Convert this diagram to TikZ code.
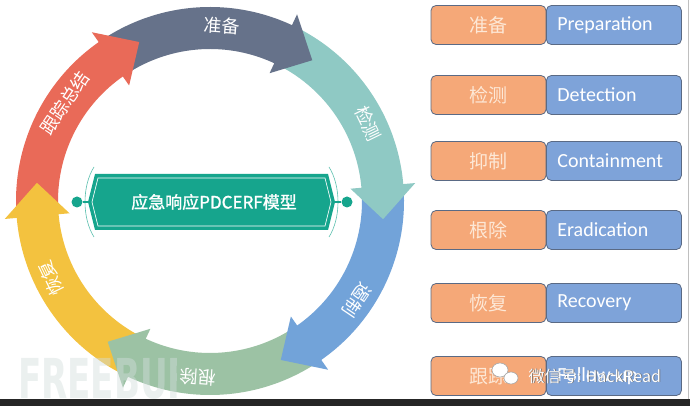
\documentclass[tikz,border=0pt]{standalone}
\usepackage{fontspec}
\setmainfont{Carlito}
\newfontfamily\cjk{Noto Sans CJK SC}
\newfontfamily\cjkbold[FakeBold=1.2]{Noto Sans CJK SC}
\newfontfamily\wmfont{DejaVu Sans}
\usepackage{tikz}
\usetikzlibrary{calc}
\definecolor{arcgray}{HTML}{66728A}
\definecolor{arcteal}{HTML}{8FC9C4}
\definecolor{arcblue}{HTML}{72A3D9}
\definecolor{arcgreen}{HTML}{9CC2A4}
\definecolor{arcyellow}{HTML}{F3C23F}
\definecolor{arcred}{HTML}{E96A58}
\definecolor{bannergreen}{HTML}{16A58D}
\definecolor{cellorange}{HTML}{F5A878}
\definecolor{cellblue}{HTML}{7EA3D9}
\definecolor{cellline}{HTML}{5A6A85}
\definecolor{cncream}{HTML}{FDE8D6}
\definecolor{barblack}{HTML}{262626}
\definecolor{wmgray}{HTML}{D3DEDC}
\newcommand{\arcband}[2]{\fill[#1] (#2+69:152) arc[start angle=#2+69, end angle=#2+10, radius=152] -- (#2+10:194) arc[start angle=#2+10, end angle=#2+69, radius=194] -- cycle;}
\newcommand{\archead}[2]{\fill[#1] (#2+11:141) -- (#2:174) -- (#2+11:206) -- cycle;}
\newcommand{\phaserow}[4]{\node[cnbox] (#1-cn) at (488.5,#2) {#3}; \node[enbox] (#1-en) at (546,#2) {#4};}
\tikzset{
  arclabel/.style={text=white, font=\cjk\fontsize{18}{18}\selectfont, inner sep=0pt},
  cnbox/.style={rectangle, rounded corners=5pt, fill=cellorange, draw=cellline, line width=0.8pt,
    minimum width=115pt, minimum height=39pt, inner sep=0pt, text=cncream, font=\cjk\fontsize{19}{19}\selectfont},
  enbox/.style={rectangle, rounded corners=5pt, fill=cellblue, draw=cellline, line width=0.8pt, anchor=west,
    text width=113pt, inner xsep=11pt, inner ysep=0pt, minimum height=39pt, align=left, text=white,
    font=\fontsize{20}{20}\selectfont},
  bandot/.style={circle, fill=bannergreen, minimum size=11pt, inner sep=0pt}
}

\begin{document}
\begin{tikzpicture}[x=1pt, y=1pt]
    \useasboundingbox (0,0) rectangle (690,406);
    \fill[white] (0,0) rectangle (690,406);
    % ring of arrows
    \begin{scope}[shift={(210,205)}]
        % bands
        \arcband{arcred}{114}
        \arcband{arcgray}{54}
        \arcband{arcteal}{-6}
        \arcband{arcblue}{-66}
        \arcband{arcgreen}{-126}
        \arcband{arcyellow}{174}
        % heads
        \archead{arcred}{114}
        \archead{arcgray}{54}
        \archead{arcteal}{-6}
        \archead{arcblue}{-66}
        \archead{arcgreen}{-126}
        \archead{arcyellow}{174}
        % labels
        \node[arclabel, rotate=-4] (prep-arc) at (86:176) {准备};
        \node[arclabel, rotate=-64] (det-arc) at (26:176) {检测};
        \node[arclabel, rotate=-124] (cont-arc) at (-34:177) {遏制};
        \node[arclabel, rotate=176] (erad-arc) at (-94:177) {根除};
        \node[arclabel, rotate=116] (rec-arc) at (-154:177) {恢复};
        \node[arclabel, rotate=56] (fol-arc) at (146:175) {跟踪总结};
    \end{scope}
    % banner
    \fill[bannergreen] (95,232) -- (328,232) -- (335,204) -- (328,176) -- (95,176) -- (88,204) -- cycle;
    \draw[white, line width=0.7pt] (98,228) -- (325,228) -- (331,204) -- (325,180) -- (98,180) -- (92,204) -- cycle;
    \draw[bannergreen!70, line width=0.6pt] (94,239) .. controls (82,220) and (82,188) .. (94,169);
    \draw[bannergreen!70, line width=0.6pt] (329,239) .. controls (341,220) and (341,188) .. (329,169);
    \node[bandot] (ldot) at (77,204) {};
    \node[bandot] (rdot) at (347,204) {};
    \draw[bannergreen, line width=1.2pt] (ldot) -- (88,204);
    \draw[bannergreen, line width=1.2pt] (rdot) -- (335,204);
    \node[text=white, font=\cjkbold\fontsize{17}{17}\selectfont] (title) at (214,204) {应急响应PDCERF模型};
    % phase table
    \phaserow{prep}{381}{准备}{Preparation}
    \phaserow{det}{311}{检测}{Detection}
    \phaserow{cont}{245}{抑制}{Containment}
    \phaserow{erad}{176}{根除}{Eradication}
    \phaserow{rec}{103}{恢复}{Recovery}
    \phaserow{fol}{30}{跟踪}{Follow-up}
    % watermarks
    \begin{scope}
        \clip (0,7) rectangle (176,60);
        \node[anchor=base west, inner sep=0pt, xscale=0.62, text=wmgray, text opacity=0.45,
          font=\wmfont\bfseries\fontsize{55}{55}\selectfont] (freebuf) at (18,7) {FREEBUF};
    \end{scope}
    \filldraw[white, draw=gray!70, line width=0.6pt] (500,36) ellipse (8 and 7);
    \filldraw[white, draw=gray!70, line width=0.6pt] (511,28) ellipse (7 and 6);
    \node[anchor=west, text=gray!80!black, font=\cjk\fontsize{16}{16}\selectfont] (wmshadow) at (525.8,29.2) {微信号: HackRead};
    \node[anchor=west, text=white, font=\cjk\fontsize{16}{16}\selectfont] (wm) at (525,30) {微信号: HackRead};
    % frame edges
    \draw[gray!50, line width=1pt] (688.5,7) -- (688.5,406);
    \fill[barblack] (0,0) rectangle (690,7);
\end{tikzpicture}
\end{document}
